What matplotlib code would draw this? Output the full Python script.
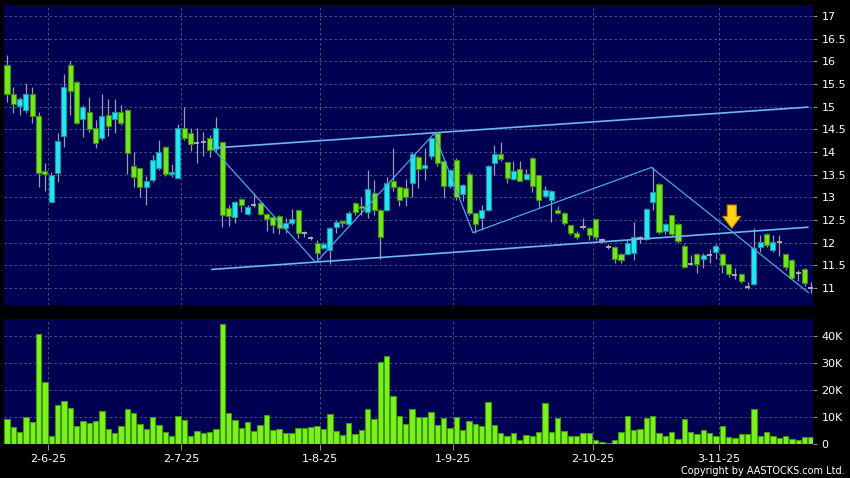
import matplotlib
matplotlib.use("Agg")
import matplotlib.pyplot as plt
import numpy as np

# daily candles, 22-May-25 .. 21-Nov-25
opens = [15.93, 15.29, 15.02, 14.93, 15.27, 14.80, 13.59, 12.90, 13.53, 14.35,
         15.93, 15.54, 14.73, 14.89, 14.52, 14.30, 14.82, 14.73, 14.88, 14.93,
         13.70, 13.64, 13.22, 13.38, 13.64, 14.12, 13.51, 13.42, 14.52, 14.41,
         14.19, 14.21, 14.30, 14.07, 14.21, 12.76, 12.57, 12.96, 12.63, 12.82,
         12.88, 12.63, 12.57, 12.59, 12.32, 12.43, 12.72, 12.21, 12.11, 12.00,
         11.88, 11.84, 12.34, 12.48, 12.41, 12.87, 12.81, 12.68, 13.10, 12.72,
         12.72, 13.36, 13.23, 13.20, 13.31, 13.90, 13.64, 13.91, 14.41, 13.81,
         13.25, 13.82, 13.07, 13.51, 12.65, 12.54, 12.72, 13.75, 13.96, 13.77,
         13.40, 13.62, 13.40, 13.86, 13.49, 13.03, 12.94, 12.72, 12.65, 12.38,
         12.22, 12.34, 12.33, 12.52, 12.06, 11.91, 11.90, 11.75, 11.76, 11.78,
         12.10, 12.07, 12.90, 13.29, 12.26, 12.60, 12.41, 11.93, 11.54, 11.76,
         11.63, 11.73, 11.80, 11.76, 11.52, 11.28, 11.31, 11.03, 11.09, 11.90,
         12.19, 11.84, 12.02, 11.74, 11.62, 11.32, 11.42, 11.01]
closes = [15.29, 15.07, 15.16, 15.27, 14.80, 13.53, 13.51, 13.49, 14.25, 15.43,
          15.35, 14.65, 14.99, 14.51, 14.19, 14.80, 14.58, 14.88, 14.63, 13.97,
          13.45, 13.22, 13.36, 13.82, 13.99, 13.51, 13.57, 14.52, 14.32, 14.18,
          14.19, 14.21, 14.04, 14.52, 12.61, 12.59, 12.90, 12.82, 12.79, 12.82,
          12.63, 12.52, 12.40, 12.32, 12.43, 12.52, 12.22, 12.21, 12.11, 11.78,
          11.97, 12.32, 12.46, 12.43, 12.66, 12.67, 12.76, 13.18, 12.72, 12.13,
          13.31, 13.22, 12.94, 13.01, 13.95, 13.62, 13.71, 14.30, 13.75, 13.25,
          13.60, 13.01, 13.27, 12.65, 12.41, 12.72, 13.69, 13.96, 13.84, 13.42,
          13.59, 13.37, 13.51, 13.25, 12.94, 13.16, 13.15, 12.66, 12.43, 12.22,
          12.13, 12.34, 12.18, 12.12, 12.06, 11.91, 11.63, 11.62, 11.99, 12.12,
          12.10, 12.74, 13.11, 12.24, 12.41, 12.19, 12.04, 11.47, 11.54, 11.54,
          11.72, 11.73, 11.93, 11.51, 11.31, 11.28, 11.16, 11.03, 11.88, 12.02,
          11.95, 12.02, 12.02, 11.47, 11.23, 11.32, 11.10, 11.01]
highs = [16.15, 15.44, 15.22, 15.52, 15.44, 14.89, 13.75, 13.56, 14.43, 15.71,
         16.00, 15.56, 15.04, 15.21, 14.71, 15.29, 15.17, 15.17, 15.04, 14.95,
         14.01, 13.64, 13.47, 13.94, 14.26, 14.14, 13.73, 14.61, 14.99, 14.52,
         14.52, 14.45, 14.37, 14.77, 14.23, 12.83, 12.92, 12.98, 12.82, 13.10,
         12.90, 12.65, 12.58, 12.60, 12.54, 12.74, 12.73, 12.26, 12.14, 12.06,
         12.02, 12.34, 12.50, 12.50, 12.70, 12.90, 13.01, 13.60, 13.38, 12.74,
         13.45, 14.09, 13.25, 13.40, 13.99, 13.92, 14.08, 14.32, 14.43, 13.83,
         13.62, 13.87, 13.29, 13.56, 12.66, 12.83, 13.72, 14.15, 14.21, 13.79,
         13.81, 13.81, 13.62, 13.88, 13.50, 13.25, 13.17, 12.80, 12.67, 12.40,
         12.25, 12.54, 12.35, 12.53, 12.10, 11.97, 11.92, 11.77, 12.05, 12.46,
         12.14, 12.76, 13.66, 13.31, 12.43, 12.62, 12.43, 11.97, 11.72, 11.78,
         11.78, 11.85, 11.96, 11.78, 11.54, 11.45, 11.33, 11.13, 12.32, 12.17,
         12.22, 12.17, 12.17, 11.76, 11.64, 11.40, 11.44, 11.13]
lows = [15.11, 14.85, 14.82, 14.85, 14.63, 13.23, 13.14, 12.90, 13.34, 14.12,
        14.82, 14.62, 14.34, 14.45, 14.09, 14.26, 14.36, 14.41, 14.60, 13.52,
        13.23, 13.01, 12.82, 13.33, 13.60, 13.46, 13.45, 13.42, 14.26, 14.03,
        13.75, 13.91, 13.88, 14.00, 12.34, 12.37, 12.44, 12.67, 12.60, 12.78,
        12.60, 12.26, 12.22, 12.19, 12.22, 12.40, 12.10, 12.12, 12.06, 11.65,
        11.86, 11.53, 12.22, 12.35, 12.38, 12.60, 12.62, 12.55, 12.62, 11.63,
        12.70, 13.15, 12.81, 12.80, 13.01, 13.20, 13.38, 13.85, 13.70, 12.98,
        13.20, 12.95, 12.93, 12.60, 12.21, 12.28, 12.70, 13.49, 13.80, 13.32,
        13.38, 13.35, 13.38, 13.12, 12.76, 13.00, 12.46, 12.64, 12.40, 12.18,
        12.08, 12.30, 12.05, 12.05, 12.00, 11.86, 11.56, 11.55, 11.74, 11.62,
        12.00, 12.05, 12.72, 12.20, 12.20, 12.15, 12.00, 11.45, 11.50, 11.34,
        11.45, 11.55, 11.65, 11.33, 11.25, 11.20, 11.10, 10.98, 11.07, 11.80,
        11.90, 11.80, 11.70, 11.40, 11.19, 11.15, 11.05, 10.89]
volumes = [9.4, 6.3, 4.3, 9.8, 8.3, 41.0, 23.0, 3.0, 14.6, 16.1,
           13.5, 6.5, 8.6, 7.9, 8.4, 12.1, 5.4, 4.0, 6.5, 12.8,
           11.5, 7.4, 5.6, 10.0, 7.0, 4.5, 3.1, 10.3, 8.8, 3.1,
           4.6, 4.0, 4.4, 5.6, 44.4, 11.3, 9.0, 6.0, 8.1, 4.9,
           7.1, 10.9, 5.1, 5.6, 4.1, 4.0, 6.0, 6.0, 6.3, 6.6,
           5.6, 11.0, 4.6, 3.4, 7.6, 3.6, 5.0, 12.9, 9.4, 30.6,
           32.5, 17.9, 10.3, 7.5, 12.8, 10.0, 9.8, 12.0, 7.0, 9.5,
           6.0, 10.0, 5.1, 8.4, 7.3, 6.8, 15.4, 7.1, 4.0, 3.1,
           3.9, 1.4, 3.3, 2.9, 4.3, 15.0, 4.3, 9.5, 4.6, 3.0,
           2.8, 4.1, 3.9, 1.3, 0.6, 0.5, 1.5, 4.5, 10.3, 5.0,
           5.5, 9.6, 10.3, 3.9, 3.0, 4.5, 1.8, 9.3, 4.4, 3.8,
           5.3, 4.0, 2.9, 6.8, 2.5, 2.0, 3.5, 3.5, 13.1, 3.1,
           4.3, 3.0, 2.3, 2.9, 1.9, 1.6, 2.5, 2.4]  # thousands

# first trading day of each month (candle index) and its label
month_idx = [7, 28, 50, 71, 93, 113]
month_labels = ["2-6-25", "2-7-25", "1-8-25", "1-9-25", "2-10-25", "3-11-25"]

# drawn trend lines (index, price)
upper_x, upper_y = [33.3, 126.5], [14.095, 14.99]
lower_x, lower_y = [32.4, 126.5], [11.41, 12.34]
zig_x = [32.5, 48.8, 67.5, 73.6, 101.8, 126.6]
zig_y = [14.08, 11.56, 14.41, 12.22, 13.66, 10.90]
arrow_x, arrow_top, arrow_tip = 114.5, 12.83, 12.32

o = np.array(opens)
c = np.array(closes)
h = np.array(highs)
l = np.array(lows)
x = np.arange(len(o))

bg = "#000052"
grid_c = "#5a5a8c"
green, green_edge = "#72e620", "#3f8f0c"
cyan, cyan_edge = "#25e6f2", "#1596a6"

fig = plt.figure(figsize=(8.5, 4.78), dpi=100, facecolor="black")
ax = fig.add_axes([4 / 850, 1 - 305 / 478, 809 / 850, 300 / 478], facecolor=bg)
axv = fig.add_axes([4 / 850, 1 - 444 / 478, 809 / 850, 125 / 478], facecolor=bg)

# wicks
ax.vlines(x, l, h, color="#9a9aa8", lw=0.9, zorder=2)

up = c > o
down = c < o
flat = c == o
w = 0.8
ax.bar(x[up], (c - o)[up], bottom=o[up], width=w, color=cyan,
       edgecolor=cyan_edge, lw=0.8, zorder=3)
ax.bar(x[down], (o - c)[down], bottom=c[down], width=w, color=green,
       edgecolor=green_edge, lw=0.8, zorder=3)
ax.hlines(o[flat], x[flat] - w / 2, x[flat] + w / 2, color="#b4b4b4", lw=1.3, zorder=3)

# trend lines
ax.plot(upper_x, upper_y, color="#6cb6f2", lw=1.2, zorder=4)
ax.plot(lower_x, lower_y, color="#6cb6f2", lw=1.2, zorder=4)
ax.plot(zig_x, zig_y, color="#4aa6e6", lw=0.9, zorder=4)

ax.annotate("", xy=(arrow_x, arrow_tip), xytext=(arrow_x, arrow_top),
            arrowprops=dict(arrowstyle="simple,head_length=0.85,head_width=1.3,tail_width=0.65",
                            fc="#ffd21a", ec="#c98600", lw=0.8, shrinkA=0, shrinkB=0),
            zorder=5)

# volume
axv.bar(x, volumes, width=0.85, color="#7cf21c", edgecolor="#3f9a0a", lw=0.8, zorder=3)

xlim = (-0.47, 127.33)
for a in (ax, axv):
    a.set_xlim(*xlim)
    for s in a.spines.values():
        s.set_visible(False)
    a.yaxis.tick_right()
    a.tick_params(axis="y", colors="#8a8a8a", labelcolor="white", labelsize=8,
                  length=3, width=0.8, pad=3)
    a.set_xticks(np.array(month_idx) - 0.5)
    a.grid(True, color=grid_c, linestyle=(0, (3, 3)), lw=0.6, zorder=0)
    a.set_axisbelow(True)

ax.set_ylim(10.625, 17.243)
ax.set_yticks(np.arange(11, 17.01, 0.5))
ax.set_yticklabels(["%g" % v for v in np.arange(11, 17.01, 0.5)])
ax.tick_params(axis="x", length=0, labelbottom=False)

axv.set_ylim(-0.05, 46.4)
axv.set_yticks([0, 10, 20, 30, 40])
axv.set_yticklabels(["0", "10K", "20K", "30K", "40K"])
axv.set_xticklabels(month_labels)
axv.tick_params(axis="x", colors="#8a8a8a", labelcolor="white", labelsize=8,
                length=4, width=0.8, pad=3)

fig.text(845 / 850, 1 - 471 / 478, "Copyright by AASTOCKS.com Ltd.", color="white",
         fontsize=7, ha="right", va="center",
         family=["Liberation Sans Narrow", "DejaVu Sans"])

fig.savefig("out.png", dpi=100, facecolor="black")
